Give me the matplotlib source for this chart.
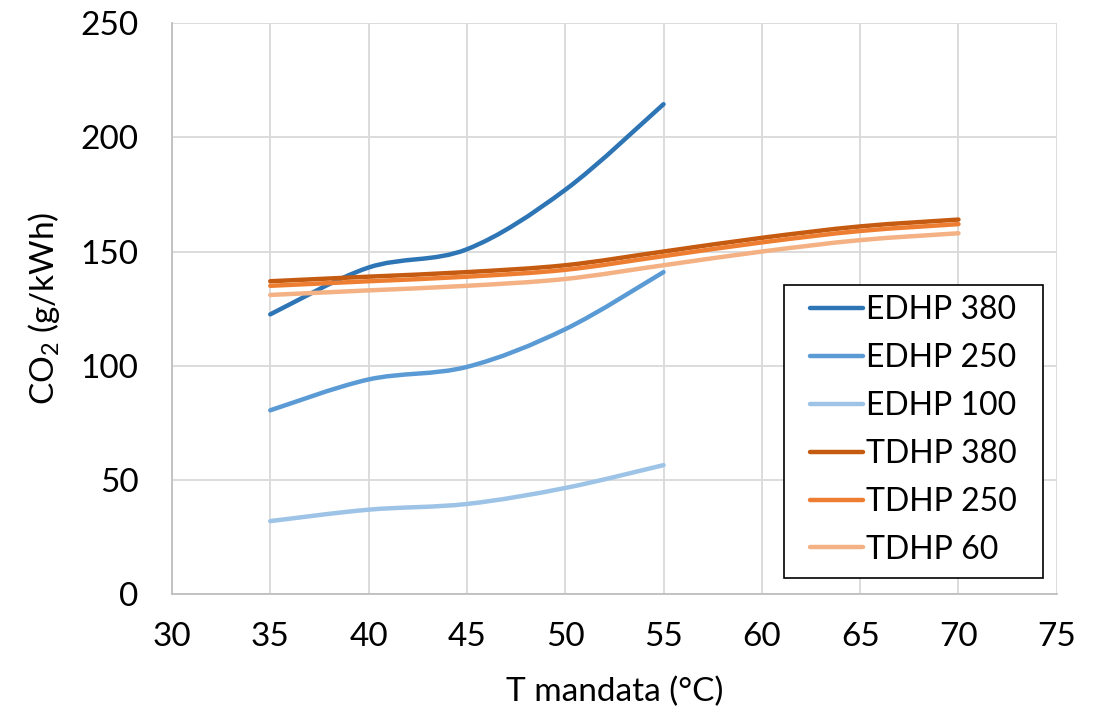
import matplotlib
matplotlib.use("Agg")
import matplotlib.pyplot as plt
from matplotlib.path import Path
from matplotlib.patches import PathPatch, Rectangle
from matplotlib.lines import Line2D

# Data
t_edhp = [35, 40, 45, 50, 55]
t_tdhp = [35, 40, 45, 50, 55, 60, 65, 70]

edhp_380 = [122.5, 143, 151, 177, 214.5]
edhp_250 = [80.5, 94, 99.5, 116, 141]
edhp_100 = [32, 37, 39.5, 46.5, 56.5]
tdhp_380 = [137, 139, 141, 144, 150, 156, 161, 164]
tdhp_250 = [135, 137, 139, 142, 148, 154, 159, 162]
tdhp_60 = [131, 133, 135, 138, 144, 150, 155, 158]

series = [
    ("EDHP 380", t_edhp, edhp_380, "#2E75B6"),
    ("EDHP 250", t_edhp, edhp_250, "#5B9BD5"),
    ("EDHP 100", t_edhp, edhp_100, "#9DC3E6"),
    ("TDHP 380", t_tdhp, tdhp_380, "#C55A11"),
    ("TDHP 250", t_tdhp, tdhp_250, "#ED7D31"),
    ("TDHP 60", t_tdhp, tdhp_60, "#F4B183"),
]

plt.rcParams['font.family'] = ['Lato', 'DejaVu Sans']
plt.rcParams['mathtext.fontset'] = 'custom'
plt.rcParams['mathtext.rm'] = 'Lato'


def smooth_path(x, y):
    # Excel-style smoothed line: cubic Bezier segments through the points
    pts = list(zip(x, y))
    verts = [pts[0]]
    codes = [Path.MOVETO]
    n = len(pts)
    for i in range(n - 1):
        p0 = pts[i - 1] if i > 0 else pts[i]
        p1 = pts[i]
        p2 = pts[i + 1]
        p3 = pts[i + 2] if i + 2 < n else pts[i + 1]
        c1 = (p1[0] + (p2[0] - p0[0]) / 6, p1[1] + (p2[1] - p0[1]) / 6)
        c2 = (p2[0] - (p3[0] - p1[0]) / 6, p2[1] - (p3[1] - p1[1]) / 6)
        verts += [c1, c2, p2]
        codes += [Path.CURVE4] * 3
    return Path(verts, codes)


fig = plt.figure(figsize=(11.02, 7.22), dpi=100)
ax = fig.add_axes([0.156, 0.177, 0.803, 0.791])

handles = []
for label, x, y, color in series:
    patch = PathPatch(smooth_path(x, y), facecolor='none', edgecolor=color,
                      lw=3.2, capstyle='round', joinstyle='round', zorder=3)
    ax.add_patch(patch)
    handles.append(Line2D([], [], color=color, lw=3.2, solid_capstyle='round', label=label))

ax.set_xlim(30, 75)
ax.set_ylim(0, 250)
ax.set_xticks(range(30, 76, 5))
ax.set_yticks(range(0, 251, 50))
ax.grid(True, color='#D9D9D9', lw=1.3)
ax.set_axisbelow(True)
for side in ['top', 'right']:
    ax.spines[side].set_visible(False)
for side in ['left', 'bottom']:
    ax.spines[side].set_color('#BFBFBF')
    ax.spines[side].set_linewidth(1.3)
ax.tick_params(length=0, labelsize=24, colors='black')
ax.tick_params(axis='y', pad=24)
ax.tick_params(axis='x', pad=20)

ax.set_xlabel('T mandata (°C)', fontsize=24, labelpad=18)
ax.set_ylabel(r'CO$_\mathregular{2}$ (g/kWh)', fontsize=24, labelpad=13)

# legend box drawn separately so its padding matches the original
box = Rectangle((0.6915, 0.028), 0.2927, 0.513, transform=ax.transAxes,
                facecolor='white', edgecolor='black', lw=1.2, zorder=4)
ax.add_patch(box)
leg = ax.legend(handles=handles, loc='upper left', bbox_to_anchor=(0.721, 0.5236),
                fontsize=23, frameon=False, handlelength=1.65, handletextpad=0.12,
                labelspacing=0.56, borderpad=0, borderaxespad=0)
leg.set_zorder(5)

fig.savefig('out.png', dpi=100)
